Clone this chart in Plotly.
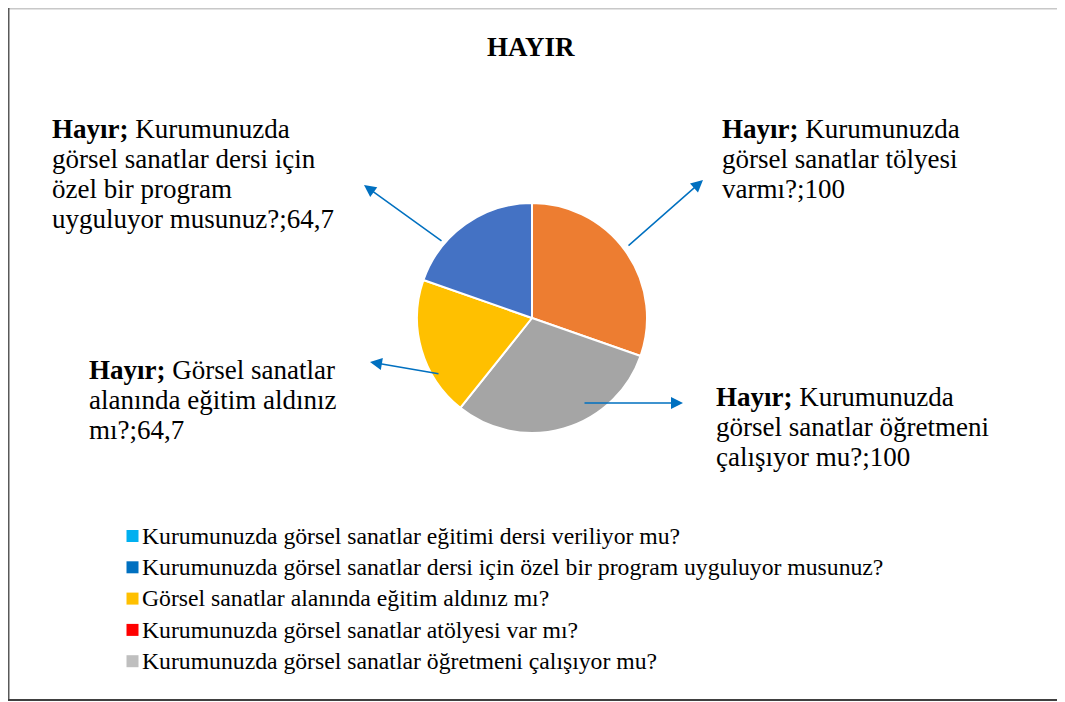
import plotly.graph_objects as go

# page offset (browser body margin) and figure size
OX, OY = 8, 8
W, H = 1065 - OX, 702 - OY

# ---- data ----
slice_labels = [
    "Kurumunuzda görsel sanatlar tölyesi varmı?",
    "Kurumunuzda görsel sanatlar öğretmeni çalışıyor mu?",
    "Görsel sanatlar alanında eğitim aldınız mı?",
    "Kurumunuzda görsel sanatlar dersi için özel bir program uyguluyor musunuz?",
]
slice_values = [100, 100, 64.7, 64.7]
slice_colors = ["#ED7D31", "#A5A5A5", "#FFC000", "#4472C4"]

# data label lines (as wrapped in the reference)
label_lines = [
    ["Kurumunuzda", "görsel sanatlar tölyesi", "varmı?"],
    ["Kurumunuzda", "görsel sanatlar öğretmeni", "çalışıyor mu?"],
    ["Görsel sanatlar", "alanında eğitim aldınız", "mı?"],
    ["Kurumunuzda", "görsel sanatlar dersi için", "özel bir program", "uyguluyor musunuz?"],
]

legend_labels = [
    "Kurumunuzda görsel sanatlar eğitimi dersi veriliyor mu?",
    "Kurumunuzda görsel sanatlar dersi için özel bir program uyguluyor musunuz?",
    "Görsel sanatlar alanında eğitim aldınız mı?",
    "Kurumunuzda görsel sanatlar atölyesi var mı?",
    "Kurumunuzda görsel sanatlar öğretmeni çalışıyor mu?",
]
legend_colors = ["#00B0F0", "#0070C0", "#FFC000", "#FF0000", "#BFBFBF"]

title_text = "HAYIR"

FONT = "Liberation Serif"
TITLE_SIZE = 27
LABEL_SIZE = 27
LEGEND_SIZE = 23.7


def px(x):
    return (x - OX) / W


def py(y):
    return 1 - (y - OY) / H


# pie geometry (reference pixels)
cx, cy, r = 532, 318, 115

fig = go.Figure()
fig.add_trace(go.Pie(
    labels=slice_labels,
    values=slice_values,
    marker=dict(colors=slice_colors, line=dict(color="white", width=2)),
    sort=False,
    direction="clockwise",
    rotation=0,
    textinfo="none",
    showlegend=False,
    domain=dict(x=[px(cx - r), px(cx + r)], y=[py(cy + r), py(cy - r)]),
))


def fmt(v):
    return f"{v:g}".replace(".", ",")


annotations = []

# title
annotations.append(dict(
    text=f"<b>{title_text}</b>", x=px(531), y=py(47), xref="paper", yref="paper",
    showarrow=False, font=dict(family=FONT, size=TITLE_SIZE, color="black"),
    xanchor="center", yanchor="middle", borderpad=0,
))

# data labels: left x and first-line baseline (reference pixels)
label_pos = [(721, 137), (715, 405), (88, 378), (51, 137)]
line_gap = 30
for lines, v, (lx, base) in zip(label_lines, slice_values, label_pos):
    body = list(lines)
    body[0] = "<b>Hayır;</b> " + body[0]
    body[-1] = body[-1] + ";" + fmt(v)
    for j, t in enumerate(body):
        yb = base + j * line_gap
        annotations.append(dict(
            text=t, x=px(lx), y=py(yb - 0.3 * LABEL_SIZE), xref="paper", yref="paper",
            showarrow=False, align="left", xanchor="left", yanchor="middle",
            borderpad=0, font=dict(family=FONT, size=LABEL_SIZE, color="black"),
        ))

# leader arrows: (tail, head) in reference pixels
arrows = [((627, 247), (703, 180)), ((583, 403), (683, 403)),
          ((440, 374), (370, 362)), ((443, 242), (364, 185))]
for (tx, ty), (hx, hy) in arrows:
    annotations.append(dict(
        text="", x=px(hx), y=py(hy), xref="paper", yref="paper",
        ax=tx - hx, ay=ty - hy, showarrow=True,
        arrowhead=2, arrowsize=1.6, arrowwidth=1.5, arrowcolor="#0070C0",
    ))

# custom legend
shapes = []
leg_base0, leg_dy = 543, 31.3
for i, (lab, col) in enumerate(zip(legend_labels, legend_colors)):
    yb = leg_base0 + i * leg_dy
    shapes.append(dict(type="rect", xref="paper", yref="paper",
                       x0=px(126.5), x1=px(138.5), y0=py(yb - 1), y1=py(yb - 13),
                       fillcolor=col, line=dict(width=0)))
    annotations.append(dict(
        text=lab, x=px(141), y=py(yb - 0.3 * LEGEND_SIZE), xref="paper", yref="paper",
        showarrow=False, xanchor="left", yanchor="middle", borderpad=0,
        font=dict(family=FONT, size=LEGEND_SIZE, color="black"),
    ))

# frame
shapes.append(dict(type="line", xref="paper", yref="paper", x0=px(6), x1=px(1063),
                   y0=py(8.7), y1=py(8.7), line=dict(color="#C8C8C8", width=1.5)))
shapes.append(dict(type="line", xref="paper", yref="paper", x0=px(8.5), x1=px(8.5),
                   y0=py(8), y1=py(700), line=dict(color="#595959", width=2)))
shapes.append(dict(type="line", xref="paper", yref="paper", x0=px(6), x1=px(1065),
                   y0=py(700), y1=py(700), line=dict(color="#404040", width=2)))

fig.update_layout(
    width=W, height=H,
    margin=dict(l=0, r=0, t=0, b=0),
    paper_bgcolor="white", plot_bgcolor="white",
    font=dict(family=FONT, color="black"),
    annotations=annotations, shapes=shapes,
)

fig.write_html("out.html")
